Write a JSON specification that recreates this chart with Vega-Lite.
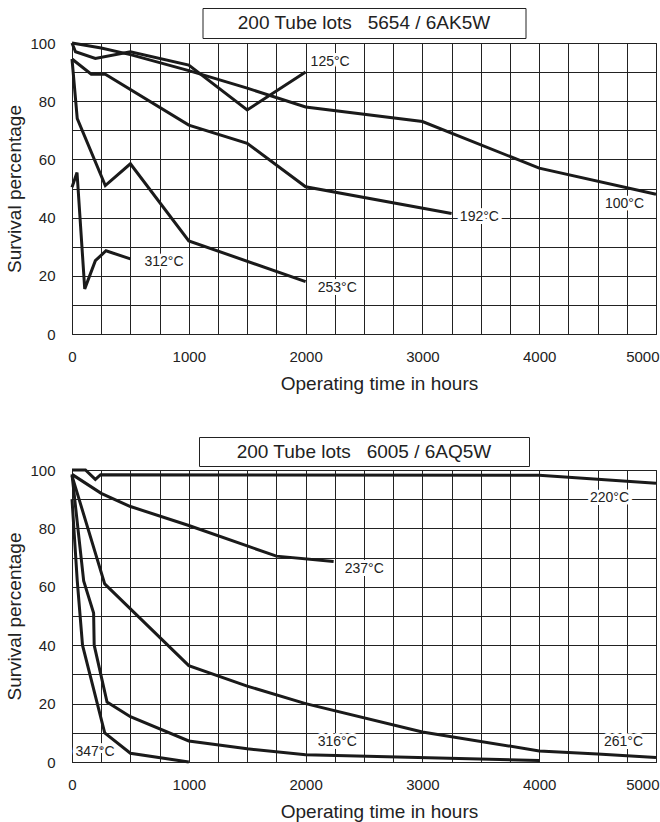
{
  "$schema": "https://vega.github.io/schema/vega-lite/v6.json",
  "padding": {"left": 5, "top": 7, "right": 0, "bottom": 0},
  "background": "white",
  "config": {
    "font": "Liberation Sans",
    "view": {"stroke": "#222", "strokeWidth": 1},
    "axis": {
      "grid": true, "gridColor": "#222", "gridWidth": 1, "gridOpacity": 1,
      "domainColor": "#222", "domainWidth": 1, "ticks": false,
      "labelFontSize": 15, "labelColor": "#222", "labelFont": "Liberation Sans",
      "titleFontSize": 19, "titleFontWeight": "normal", "titleColor": "#222", "titleFont": "Liberation Sans"
    }
  },
  "datasets": {
    "top": [
      {"series": "100", "hours": 0, "pct": 100}, {"series": "100", "hours": 250, "pct": 98.3}, {"series": "100", "hours": 500, "pct": 96}, {"series": "100", "hours": 1000, "pct": 90.5}, {"series": "100", "hours": 1500, "pct": 84.5}, {"series": "100", "hours": 2000, "pct": 78}, {"series": "100", "hours": 3000, "pct": 73}, {"series": "100", "hours": 4000, "pct": 57}, {"series": "100", "hours": 5000, "pct": 48},
      {"series": "125", "hours": 0, "pct": 100}, {"series": "125", "hours": 30, "pct": 97}, {"series": "125", "hours": 200, "pct": 94.7}, {"series": "125", "hours": 500, "pct": 97}, {"series": "125", "hours": 1000, "pct": 92.4}, {"series": "125", "hours": 1500, "pct": 77}, {"series": "125", "hours": 2000, "pct": 90},
      {"series": "192", "hours": 0, "pct": 94.5}, {"series": "192", "hours": 165, "pct": 89.3}, {"series": "192", "hours": 285, "pct": 89.3}, {"series": "192", "hours": 1000, "pct": 71.8}, {"series": "192", "hours": 1500, "pct": 65.5}, {"series": "192", "hours": 2000, "pct": 50.6}, {"series": "192", "hours": 3250, "pct": 41.4},
      {"series": "253", "hours": 0, "pct": 94.5}, {"series": "253", "hours": 45, "pct": 74}, {"series": "253", "hours": 285, "pct": 51}, {"series": "253", "hours": 500, "pct": 58.5}, {"series": "253", "hours": 1000, "pct": 32}, {"series": "253", "hours": 2000, "pct": 18},
      {"series": "312", "hours": 0, "pct": 50.4}, {"series": "312", "hours": 43, "pct": 55.5}, {"series": "312", "hours": 109, "pct": 15.5}, {"series": "312", "hours": 200, "pct": 25.2}, {"series": "312", "hours": 291, "pct": 28.6}, {"series": "312", "hours": 500, "pct": 25.8}
    ],
    "topLabels": [
      {"label": "125°C", "hours": 2210, "pct": 93.5},
      {"label": "192°C", "hours": 3488, "pct": 40.1},
      {"label": "100°C", "hours": 4730, "pct": 44.7},
      {"label": "253°C", "hours": 2271, "pct": 15.9},
      {"label": "312°C", "hours": 788, "pct": 24.9}
    ],
    "bottom": [
      {"series": "220", "hours": 0, "pct": 100}, {"series": "220", "hours": 115, "pct": 100}, {"series": "220", "hours": 200, "pct": 96.8}, {"series": "220", "hours": 245, "pct": 98.4}, {"series": "220", "hours": 4000, "pct": 98.2}, {"series": "220", "hours": 5000, "pct": 95.5},
      {"series": "237", "hours": 0, "pct": 98.5}, {"series": "237", "hours": 250, "pct": 92}, {"series": "237", "hours": 500, "pct": 87.5}, {"series": "237", "hours": 1000, "pct": 81}, {"series": "237", "hours": 1500, "pct": 74}, {"series": "237", "hours": 1750, "pct": 70.5}, {"series": "237", "hours": 2240, "pct": 68.7},
      {"series": "261", "hours": 0, "pct": 98}, {"series": "261", "hours": 280, "pct": 61}, {"series": "261", "hours": 1000, "pct": 33}, {"series": "261", "hours": 1500, "pct": 26}, {"series": "261", "hours": 2000, "pct": 20}, {"series": "261", "hours": 3000, "pct": 10.3}, {"series": "261", "hours": 4000, "pct": 3.8}, {"series": "261", "hours": 4500, "pct": 2.7}, {"series": "261", "hours": 5000, "pct": 1.5},
      {"series": "316", "hours": 0, "pct": 98.5}, {"series": "316", "hours": 100, "pct": 62}, {"series": "316", "hours": 185, "pct": 51}, {"series": "316", "hours": 190, "pct": 40}, {"series": "316", "hours": 300, "pct": 20.5}, {"series": "316", "hours": 500, "pct": 15.5}, {"series": "316", "hours": 1000, "pct": 7.2}, {"series": "316", "hours": 1500, "pct": 4.5}, {"series": "316", "hours": 2000, "pct": 2.5}, {"series": "316", "hours": 4000, "pct": 0.5},
      {"series": "347", "hours": 0, "pct": 90}, {"series": "347", "hours": 45, "pct": 62}, {"series": "347", "hours": 90, "pct": 40}, {"series": "347", "hours": 280, "pct": 10}, {"series": "347", "hours": 500, "pct": 3}, {"series": "347", "hours": 1000, "pct": 0}
    ],
    "bottomLabels": [
      {"label": "220°C", "hours": 4602, "pct": 90.4},
      {"label": "237°C", "hours": 2502, "pct": 66},
      {"label": "316°C", "hours": 2271, "pct": 6.9},
      {"label": "261°C", "hours": 4722, "pct": 6.7},
      {"label": "347°C", "hours": 197, "pct": 3.4}
    ]
  },
  "spacing": 42,
  "vconcat": [
    {
      "spacing": 5, "bounds": "flush", "center": true,
      "vconcat": [
        {
          "width": 323, "height": 30,
          "view": {"stroke": "#222", "strokeWidth": 1},
          "data": {"values": [{"t": "200 Tube lots\u00a0\u00a0\u00a05654 / 6AK5W"}]},
          "mark": {"type": "text", "fontSize": 19, "font": "Liberation Sans", "color": "#222"},
          "encoding": {"text": {"field": "t"}}
        },
        {
          "width": 584, "height": 291,
          "encoding": {
            "x": {"field": "hours", "type": "quantitative", "scale": {"domain": [0, 5000], "nice": false},
              "axis": {"values": [0,250,500,750,1000,1250,1500,1750,2000,2250,2500,2750,3000,3250,3500,3750,4000,4250,4500,4750,5000], "format": "d",
                "labelExpr": "datum.value % 1000 === 0 ? datum.label : ''",
                "labelAlign": {"condition": {"test": "datum.value === 5000", "value": "right"}, "value": "center"},
                "labelOffset": {"condition": {"test": "datum.value === 5000", "value": 3}, "value": 0},
                "labelPadding": 15, "titlePadding": 10, "titleX": 307, "title": "Operating time in hours"}},
            "y": {"field": "pct", "type": "quantitative", "scale": {"domain": [0, 100], "nice": false},
              "axis": {"values": [0,10,20,30,40,50,60,70,80,90,100],
                "labelExpr": "datum.value % 20 === 0 ? datum.label : ''",
                "labelPadding": 17, "titlePadding": 5, "title": "Survival percentage"}}
          },
          "layer": [
            {"data": {"name": "top"}, "mark": {"type": "line", "color": "#1a1a1a", "strokeWidth": 3}, "encoding": {"detail": {"field": "series"}}},
            {"data": {"name": "topLabels"}, "mark": {"type": "text", "fill": "white", "stroke": "white", "strokeWidth": 6, "fontSize": 14}, "encoding": {"text": {"field": "label"}}},
            {"data": {"name": "topLabels"}, "mark": {"type": "text", "fill": "#222", "fontSize": 14}, "encoding": {"text": {"field": "label"}}}
          ]
        }
      ]
    },
    {
      "spacing": 4, "bounds": "flush", "center": true,
      "vconcat": [
        {
          "width": 330, "height": 29,
          "view": {"stroke": "#222", "strokeWidth": 1},
          "data": {"values": [{"t": "200 Tube lots\u00a0\u00a0\u00a06005 / 6AQ5W"}]},
          "mark": {"type": "text", "fontSize": 19, "font": "Liberation Sans", "color": "#222"},
          "encoding": {"text": {"field": "t"}}
        },
        {
          "width": 584, "height": 292,
          "encoding": {
            "x": {"field": "hours", "type": "quantitative", "scale": {"domain": [0, 5000], "nice": false},
              "axis": {"values": [0,250,500,750,1000,1250,1500,1750,2000,2250,2500,2750,3000,3250,3500,3750,4000,4250,4500,4750,5000], "format": "d",
                "labelExpr": "datum.value % 1000 === 0 ? datum.label : ''",
                "labelAlign": {"condition": {"test": "datum.value === 5000", "value": "right"}, "value": "center"},
                "labelOffset": {"condition": {"test": "datum.value === 5000", "value": 3}, "value": 0},
                "labelPadding": 15, "titlePadding": 10, "titleX": 307, "title": "Operating time in hours"}},
            "y": {"field": "pct", "type": "quantitative", "scale": {"domain": [0, 100], "nice": false},
              "axis": {"values": [0,10,20,30,40,50,60,70,80,90,100],
                "labelExpr": "datum.value % 20 === 0 ? datum.label : ''",
                "labelPadding": 17, "titlePadding": 5, "title": "Survival percentage"}}
          },
          "layer": [
            {"data": {"name": "bottom"}, "mark": {"type": "line", "color": "#1a1a1a", "strokeWidth": 3}, "encoding": {"detail": {"field": "series"}}},
            {"data": {"name": "bottomLabels"}, "mark": {"type": "text", "fill": "white", "stroke": "white", "strokeWidth": 6, "fontSize": 14}, "encoding": {"text": {"field": "label"}}},
            {"data": {"name": "bottomLabels"}, "mark": {"type": "text", "fill": "#222", "fontSize": 14}, "encoding": {"text": {"field": "label"}}}
          ]
        }
      ]
    }
  ]
}
